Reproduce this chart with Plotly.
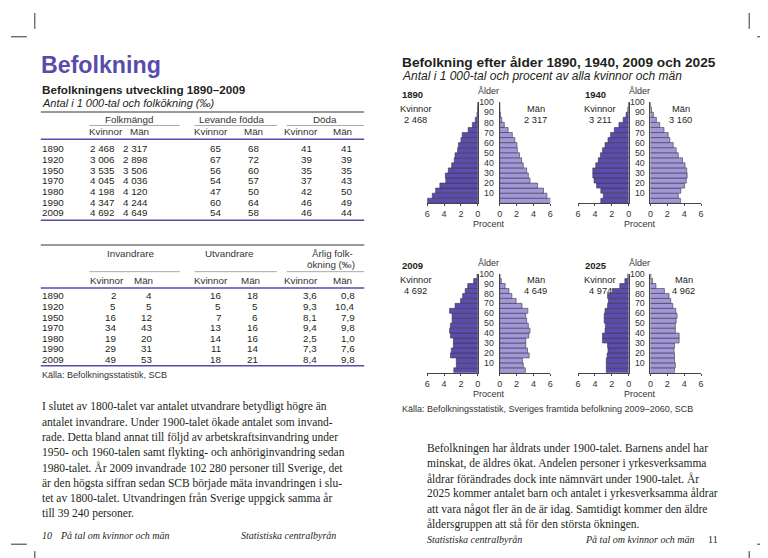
import plotly.graph_objects as go

W, H = 768, 558
SANS = "Liberation Sans, Arial, sans-serif"
SERIF = "Liberation Serif, Times New Roman, serif"
PURPLE = "#5a4bab"
WOMEN_C = "#5b4cae"
MEN_C = "#a396d9"
EDGE_C = "#3a3a44"
TXT = "#231f20"


def X(px):
    return px / W


def Y(py):
    return 1 - py / H


# ---------------- data: table ----------------
years = ["1890", "1920", "1950", "1970", "1980", "1990", "2009"]
folk_k = [2468, 3006, 3535, 4045, 4198, 4347, 4692]
folk_m = [2317, 2898, 3506, 4036, 4120, 4244, 4649]
fodda_k = [65, 67, 56, 54, 47, 60, 54]
fodda_m = [68, 72, 60, 57, 50, 64, 58]
doda_k = [41, 39, 35, 37, 42, 46, 46]
doda_m = [41, 39, 35, 43, 50, 49, 44]
inv_k = [2, 5, 16, 34, 19, 29, 49]
inv_m = [4, 5, 12, 43, 20, 31, 53]
utv_k = [16, 5, 7, 13, 14, 11, 18]
utv_m = [18, 5, 6, 16, 16, 14, 21]
okn_k = ["3,6", "9,3", "8,1", "9,4", "2,5", "7,3", "8,4"]
okn_m = ["0,8", "10,4", "7,9", "9,8", "1,0", "7,6", "9,8"]

# ---------------- data: pyramids (percent, age groups 0-4 ... 95-99) ----------------
age_start = list(range(0, 100, 5))
women_1890 = [6.0, 5.4, 5.0, 4.5, 3.8, 3.85, 3.5, 3.1, 2.8, 2.7, 2.4, 2.3, 2.0, 1.85, 1.15, 0.65, 0.3, 0.1, 0.04, 0.01]
men_1890 = [6.1, 5.6, 5.2, 4.5, 3.6, 3.4, 3.2, 2.8, 2.6, 2.35, 2.1, 2.05, 1.8, 1.5, 1.0, 0.55, 0.25, 0.1, 0.03, 0.01]
women_1940 = [3.3, 3.0, 3.3, 3.8, 4.1, 4.25, 4.25, 3.9, 3.6, 3.35, 3.1, 2.8, 2.45, 2.15, 1.7, 1.15, 0.65, 0.3, 0.1, 0.02]
men_1940 = [3.55, 3.3, 3.6, 4.05, 4.25, 4.35, 4.3, 4.1, 3.8, 3.3, 3.05, 2.7, 2.3, 2.1, 1.6, 1.1, 0.7, 0.35, 0.12, 0.02]
women_2009 = [2.85, 2.55, 2.55, 3.25, 3.15, 2.9, 2.9, 3.25, 3.35, 3.25, 3.05, 3.05, 3.35, 2.7, 2.05, 1.8, 1.5, 1.2, 0.5, 0.1]
men_2009 = [3.05, 2.8, 2.7, 3.5, 3.3, 3.1, 3.1, 3.45, 3.6, 3.4, 3.2, 3.1, 3.35, 2.65, 1.95, 1.45, 1.1, 0.65, 0.2, 0.04]
women_2025 = [2.65, 2.65, 2.65, 2.55, 2.45, 2.5, 3.1, 3.1, 2.8, 2.75, 2.9, 2.9, 2.8, 2.5, 2.4, 2.5, 1.95, 1.05, 0.45, 0.1]
men_2025 = [2.85, 2.95, 2.85, 2.85, 2.8, 2.85, 3.4, 3.4, 2.95, 2.95, 3.05, 3.15, 3.0, 2.65, 2.4, 2.2, 1.65, 0.65, 0.25, 0.05]
pyr_years = ["1890", "1940", "2009", "2025"]
tot_women = ["2 468", "3 211", "4 692", "4 974"]
tot_men = ["2 317", "3 160", "4 649", "4 962"]
age_ticks = [10, 20, 30, 40, 50, 60, 70, 80, 90, 100]
pct_ticks = [0, 2, 4, 6]

pyr_women = [women_1890, women_1940, women_2009, women_2025]
pyr_men = [men_1890, men_1940, men_2009, men_2025]

# layout boxes (pixels): left panel (6 -> 0), right panel (0 -> 6), y of age 0 and age 100
boxes = [
    dict(l=(419.5, 470.5), r=(492.5, 543.5), y0=192.0, y100=90.0, yx=393.0, kx=408.0, mx=529.0),
    dict(l=(571.5, 622.5), r=(644.5, 695.5), y0=192.0, y100=90.0, yx=578.0, kx=594.0, mx=675.0),
    dict(l=(419.5, 470.5), r=(492.5, 543.5), y0=363.0, y100=263.0, yx=393.0, kx=408.0, mx=529.0),
    dict(l=(571.5, 622.5), r=(644.5, 695.5), y0=363.0, y100=263.0, yx=578.0, kx=594.0, mx=678.0),
]

fig = go.Figure()
ann = []
shapes = []


def txt(x, y, s, size, anchor="left", family=SANS, color=TXT, bold=False, italic=False):
    if bold:
        s = "<b>" + s + "</b>"
    if italic:
        s = "<i>" + s + "</i>"
    ann.append(dict(x=X(x), y=Y(y), xref="paper", yref="paper", text=s, showarrow=False,
                    xanchor=anchor, yanchor="middle", borderpad=0,
                    font=dict(family=family, size=size, color=color)))


def hline(x0, x1, y, color, width):
    shapes.append(dict(type="line", xref="paper", yref="paper", x0=X(x0), x1=X(x1), y0=Y(y), y1=Y(y),
                       line=dict(color=color, width=width)))


def vline(x, y0, y1, color, width):
    shapes.append(dict(type="line", xref="paper", yref="paper", x0=X(x), x1=X(x), y0=Y(y0), y1=Y(y1),
                       line=dict(color=color, width=width)))


axes = {}
age_mid = [a + 2.5 for a in age_start]
for i, b in enumerate(boxes):
    nl = 2 * i + 1
    nr = 2 * i + 2
    common_x = dict(tickvals=pct_ticks, ticks="outside", ticklen=2, tickwidth=1, tickcolor="#444",
                    showline=True, linecolor="#444", linewidth=1, showgrid=False, zeroline=False,
                    tickfont=dict(family=SANS, size=9, color="#333"), fixedrange=True)
    ydom = [Y(b["y0"]), Y(b["y100"])]
    axes[f"xaxis{nl}"] = dict(domain=[X(b["l"][0]), X(b["l"][1])], range=[6, 0], anchor=f"y{nl}", **common_x)
    axes[f"xaxis{nr}"] = dict(domain=[X(b["r"][0]), X(b["r"][1])], range=[0, 6], anchor=f"y{nr}", **common_x)
    axes[f"yaxis{nl}"] = dict(domain=ydom, range=[0, 100], anchor=f"x{nl}", side="right", showline=True,
                              linecolor="#444", linewidth=1, showticklabels=False, ticks="",
                              showgrid=False, zeroline=False, fixedrange=True)
    axes[f"yaxis{nr}"] = dict(domain=ydom, range=[0, 100], anchor=f"x{nr}", side="left", showline=True,
                              linecolor="#444", linewidth=1, tickvals=age_ticks,
                              ticktext=[str(t) for t in age_ticks], ticks="", ticklabelstandoff=3,
                              tickfont=dict(family=SANS, size=8.8, color="#333"),
                              showgrid=False, zeroline=False, fixedrange=True)
    fig.add_trace(go.Bar(x=pyr_women[i], y=age_mid, orientation="h", width=5,
                         xaxis=f"x{nl}", yaxis=f"y{nl}", showlegend=False, hoverinfo="skip",
                         marker=dict(color=WOMEN_C, line=dict(color=EDGE_C, width=0.6))))
    fig.add_trace(go.Bar(x=pyr_men[i], y=age_mid, orientation="h", width=5,
                         xaxis=f"x{nr}", yaxis=f"y{nr}", showlegend=False, hoverinfo="skip",
                         marker=dict(color=MEN_C, line=dict(color=EDGE_C, width=0.6))))
    cx = (b["l"][1] + b["r"][0]) / 2
    y100 = b["y100"]
    txt(b["yx"], y100 - 8, pyr_years[i], 9.5, bold=True)
    txt(cx, y100 - 11, "Ålder", 9, anchor="center", color="#333")
    txt(b["kx"], y100 + 6.5, "Kvinnor", 9.3, anchor="center")
    txt(b["kx"], y100 + 18, tot_women[i], 9.3, anchor="center")
    txt(b["mx"], y100 + 6.5, "Män", 9.3, anchor="center")
    txt(b["mx"], y100 + 18, tot_men[i], 9.3, anchor="center")
    txt(cx, b["y0"] + 21, "Procent", 9, anchor="center", color="#333")

# ---------------- left page ----------------
txt(29.0, 52.0, "Befolkning", 23.2, bold=True, color=PURPLE)
txt(30.0, 77.0, "Befolkningens utveckling 1890–2009", 11.7, bold=True)
txt(30.0, 91.0, "Antal i 1 000-tal och folkökning (‰)", 11.0, italic=True)

TL, TR = 30.0, 356.0
fs = 9.8


def fmt(v):
    return f"{v:,}".replace(",", " ")


# table 1
hline(TL, TR, 100.0, "#9a9a9a", 2)
for cxh, lab in [(119.0, "Folkmängd"), (222.0, "Levande födda"), (316.0, "Döda")]:
    txt(cxh, 107.0, lab, fs, anchor="center", color="#333")
for a, b2 in [(79.0, 170.0), (185.0, 268.0), (278.0, TR)]:
    hline(a, b2, 113.5, "#aaaaaa", 1)
for cxh, lab in [(96.0, "Kvinnor"), (130.0, "Män"), (202.0, "Kvinnor"), (244.0, "Män"),
                 (292.0, "Kvinnor"), (334.0, "Män")]:
    txt(cxh, 120.0, lab, fs, anchor="center", color="#333")
hline(TL, TR, 127.5, PURPLE, 1.5)
rows1 = [137.0 + 10.8 * k for k in range(7)]
cols1 = [(105.5, [fmt(v) for v in folk_k]), (139.5, [fmt(v) for v in folk_m]),
         (213.0, [str(v) for v in fodda_k]), (251.0, [str(v) for v in fodda_m]),
         (304.0, [str(v) for v in doda_k]), (345.0, [str(v) for v in doda_m])]
for j, ry in enumerate(rows1):
    txt(30.0, ry, years[j], fs)
    for rx, vals in cols1:
        txt(rx, ry, vals[j], fs, anchor="right")
hline(TL, TR, 209.0, PURPLE, 1.5)

# table 2
hline(TL, TR, 234.0, "#9a9a9a", 2)
txt(120.0, 243.0, "Invandrare", fs, anchor="center", color="#333")
txt(220.0, 243.0, "Utvandrare", fs, anchor="center", color="#333")
txt(346.0, 243.0, "Årlig folk-", fs, anchor="right", color="#333")
txt(348.0, 254.0, "ökning (‰)", fs, anchor="right", color="#333")
for a, b2 in [(79.0, 170.0), (185.0, 268.0), (278.0, TR)]:
    hline(a, b2, 261.0, "#aaaaaa", 1)
for cxh, lab in [(97.0, "Kvinnor"), (134.0, "Män"), (202.0, "Kvinnor"), (241.5, "Män"),
                 (292.0, "Kvinnor"), (334.0, "Män")]:
    txt(cxh, 269.5, lab, fs, anchor="center", color="#333")
hline(TL, TR, 277.5, PURPLE, 1.5)
rows2 = [285.5 + 10.7 * k for k in range(7)]
cols2 = [(107.0, [str(v) for v in inv_k]), (143.0, [str(v) for v in inv_m]),
         (213.0, [str(v) for v in utv_k]), (250.0, [str(v) for v in utv_m]),
         (309.0, okn_k), (348.0, okn_m)]
for j, ry in enumerate(rows2):
    txt(30.0, ry, years[j], fs)
    for rx, vals in cols2:
        txt(rx, ry, vals[j], fs, anchor="right")
hline(TL, TR, 356.0, PURPLE, 1.5)
txt(30.0, 365.0, "Källa: Befolkningsstatistik, SCB", 9.0, color="#333")

left_para = [
    "I slutet av 1800-talet var antalet utvandrare betydligt högre än",
    "antalet invandrare. Under 1900-talet ökade antalet som invand-",
    "rade. Detta bland annat till följd av arbetskraftsinvandring under",
    "1950- och 1960-talen samt flykting- och anhöriginvandring sedan",
    "1980-talet. År 2009 invandrade 102 280 personer till Sverige, det",
    "är den högsta siffran sedan SCB började mäta invandringen i slu-",
    "tet av 1800-talet. Utvandringen från Sverige uppgick samma år",
    "till 39 240 personer.",
]
for k, line in enumerate(left_para):
    txt(30.0, 397.0 + 15.5 * k, line, 11.5, family=SERIF)
txt(30.0, 527.0, "10", 10, family=SERIF, italic=True)
txt(48.0, 527.0, "På tal om kvinnor och män", 10, family=SERIF, italic=True)
txt(329.0, 527.0, "Statistiska centralbyrån", 10, anchor="right", family=SERIF, italic=True)

# ---------------- right page ----------------
txt(393.0, 50.0, "Befolkning efter ålder 1890, 1940, 2009 och 2025", 13.7, bold=True)
txt(393.0, 64.0, "Antal i 1 000-tal och procent av alla kvinnor och män", 12.0, italic=True)
txt(393.0, 400.0, "Källa: Befolkningsstatistik, Sveriges framtida befolkning 2009–2060, SCB", 9.0, color="#333")

right_para = [
    "Befolkningen har åldrats under 1900-talet. Barnens andel har",
    "minskat, de äldres ökat. Andelen personer i yrkesverksamma",
    "åldrar förändrades dock inte nämnvärt under 1900-talet. År",
    "2025 kommer antalet barn och antalet i yrkesverksamma åldrar",
    "att vara något fler än de är idag. Samtidigt kommer den äldre",
    "åldersgruppen att stå för den största ökningen.",
]
for k, line in enumerate(right_para):
    txt(418.0, 439.0 + 15.4 * k, line, 11.5, family=SERIF)
txt(418.0, 531.0, "Statistiska centralbyrån", 10, family=SERIF, italic=True)
txt(690.0, 531.0, "På tal om kvinnor och män", 10, anchor="right", family=SERIF, italic=True)
txt(701.0, 531.0, "11", 10, family=SERIF)

# crop marks
hline(0.0, 16.0, 24.0, "#333", 1)
vline(24.0, 0.0, 16.0, "#333", 1)
hline(752.0, 768.0, 24.0, "#333", 1)
vline(744.0, 0.0, 16.0, "#333", 1)
hline(0.0, 16.0, 536.0, "#333", 1)
vline(24.0, 543.0, 558.0, "#333", 1)
hline(752.0, 768.0, 536.0, "#333", 1)
vline(744.0, 543.0, 558.0, "#333", 1)

fig.update_layout(
    width=W, height=H, margin=dict(l=0, r=0, t=0, b=0),
    paper_bgcolor="white", plot_bgcolor="white", barmode="overlay",
    annotations=ann, shapes=shapes, showlegend=False, **axes,
)
fig.write_html("out.html", config={"displayModeBar": False})
